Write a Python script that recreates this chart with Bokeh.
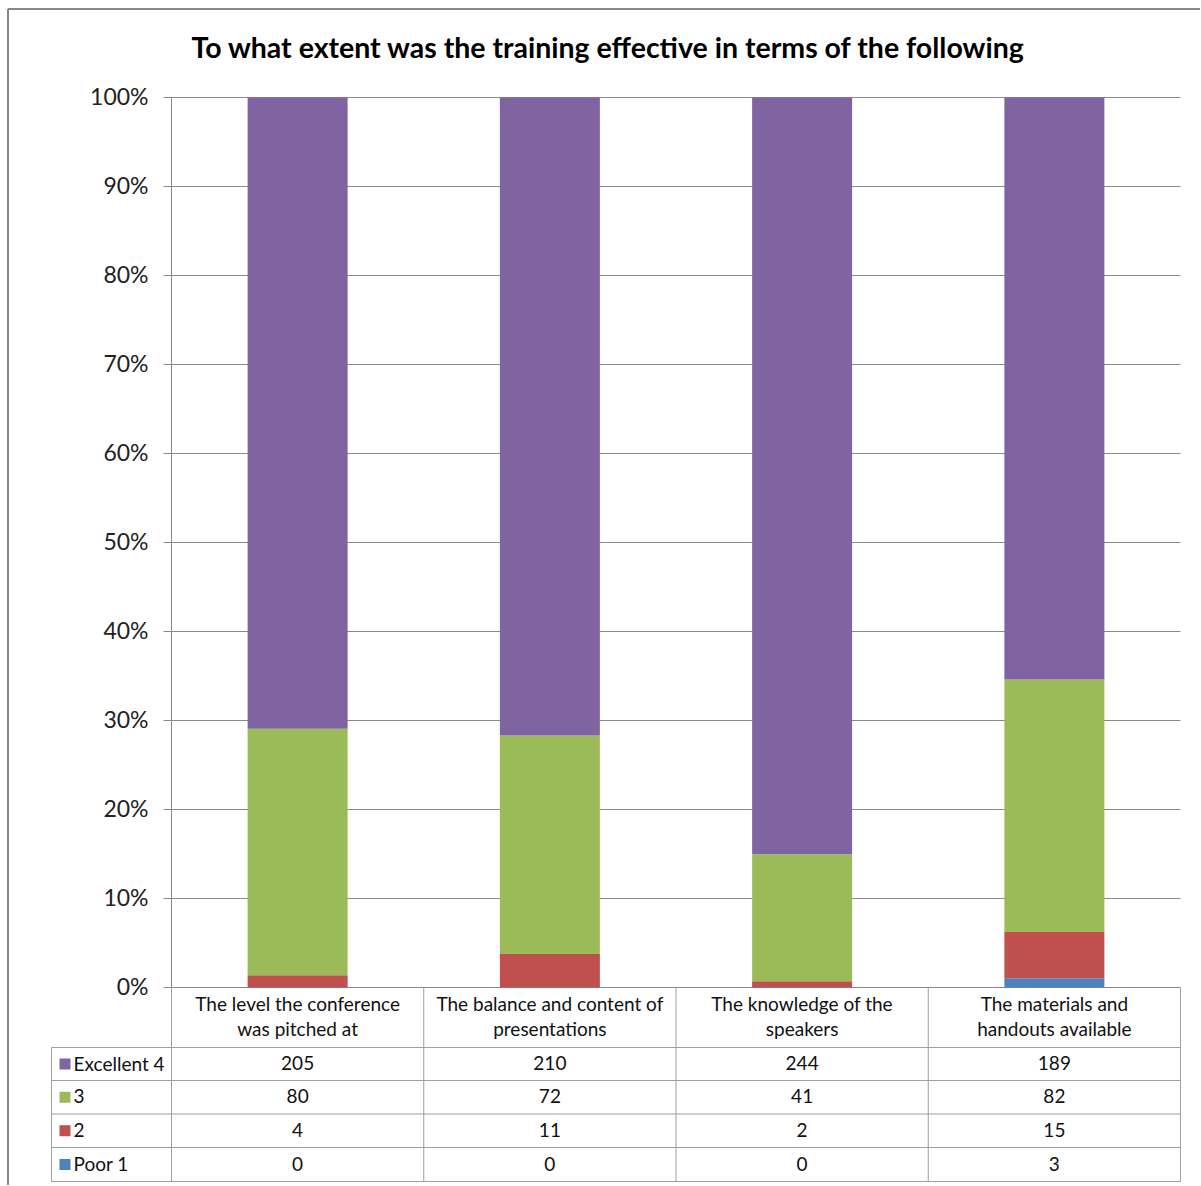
import numpy as np
from bokeh.plotting import figure
from bokeh.models import Range1d
from bokeh.core.properties import value
from bokeh.embed import file_html
from bokeh.resources import INLINE

# ---------------- data ----------------
title_text = "To what extent was the training effective in terms of the following"
header_lines = [
    ["The level the conference", "was pitched at"],
    ["The balance and content of", "presentations"],
    ["The knowledge of the", "speakers"],
    ["The materials and", "handouts available"],
]
series_names = ["Excellent 4", "3", "2", "Poor 1"]
excellent_4 = [205, 210, 244, 189]
score_3 = [80, 72, 41, 82]
score_2 = [4, 11, 2, 15]
poor_1 = [0, 0, 0, 3]
y_ticks = [0, 10, 20, 30, 40, 50, 60, 70, 80, 90, 100]
tick_labels = [f"{t}%" for t in y_ticks]

colors = {"Excellent 4": "#8064A2", "3": "#9BBB59", "2": "#C0504D", "Poor 1": "#4F81BD"}
FONT = "Lato"

# ---------------- layout helpers (page pixels -> data) ----------------
W, H = 1200, 1185
OX, OY = 0, 0              # where the figure sits on the page
PX0, PXU = 171.0, 252.25   # x pixel of category 0 edge, pixels per category
PY0, PYU = 987.0, 8.9      # y pixel of 0%, pixels per percent
def X(px): return (px - PX0) / PXU
def Y(py): return (PY0 - py) / PYU

p = figure(width=W, height=H, output_backend="svg", toolbar_location=None,
           x_axis_type=None, y_axis_type=None, min_border=0,
           x_range=Range1d(X(OX), X(OX + W)), y_range=Range1d(Y(OY + H), Y(OY)))
p.outline_line_color = None
p.background_fill_color = "white"
p.border_fill_color = "white"

# chart border (left and top visible)
p.segment(x0=[X(7.5), X(7.5)], y0=[Y(OY + H + 5), Y(8.5)], x1=[X(7.5), X(OX + W + 5)], y1=[Y(8.5), Y(8.5)],
          line_color="#878787", line_width=2)

# gridlines + tick marks
ncat = len(excellent_4)
grid_col = "#8a8a8a"
p.segment(x0=[X(163)] * len(y_ticks), y0=y_ticks, x1=[ncat] * len(y_ticks), y1=y_ticks,
          line_color=grid_col, line_width=1)
# y tick labels (nudged up ~2px for optical centring)
p.text(x=[X(148)] * len(y_ticks), y=[t + 2 / PYU for t in y_ticks], text=tick_labels, text_align="right",
       text_baseline="middle", text_font=value(FONT), text_font_size="23px", text_color="#222222")

# ---------------- stacked 100% bars ----------------
counts = np.array([poor_1, score_2, score_3, excellent_4], dtype=float)
totals = counts.sum(axis=0)
pct = counts / totals * 100.0
cum = np.vstack([np.zeros(ncat), np.cumsum(pct, axis=0)])
xs = np.arange(ncat) + 0.5
stack_names = ["Poor 1", "2", "3", "Excellent 4"]
for k, name in enumerate(stack_names):
    p.vbar(x=xs, width=100 / PXU, bottom=cum[k], top=cum[k + 1],
           fill_color=colors[name], line_color=None)

# ---------------- data table ----------------
tcol = "#9e9e9e"
row_edges_px = [987, 1047, 1080, 1113.5, 1147, 1181]
col_edges = [0, 1, 2, 3, 4]
# vertical lines of value columns
p.segment(x0=col_edges, y0=[Y(row_edges_px[0])] * 5, x1=col_edges, y1=[Y(row_edges_px[-1])] * 5,
          line_color=tcol, line_width=1)
# axis line (left of plot)
p.segment(x0=[0], y0=[0], x1=[0], y1=[100], line_color=grid_col, line_width=1)
# left column vertical line
p.segment(x0=[X(51)], y0=[Y(row_edges_px[1])], x1=[X(51)], y1=[Y(row_edges_px[-1])],
          line_color=tcol, line_width=1)
# horizontal row lines
hy = [Y(v) for v in row_edges_px[1:]]
p.segment(x0=[X(51)] * len(hy), y0=hy, x1=[ncat] * len(hy), y1=hy, line_color=tcol, line_width=1)

# header texts
for i, lines in enumerate(header_lines):
    p.text(x=[i + 0.5] * 2, y=[Y(1002.5), Y(1027.5)], text=lines, text_align="center",
           text_baseline="middle", text_font=value(FONT), text_font_size="19px", text_color="#111111")

# rows
row_values = [excellent_4, score_3, score_2, poor_1]
for r, name in enumerate(series_names):
    ymid = (row_edges_px[r + 1] + row_edges_px[r + 2]) / 2
    yc = Y(ymid - 1)
    p.scatter(x=[X(64.5)], y=[Y(ymid)], marker="square", size=11, fill_color=colors[name], line_color=None)
    p.text(x=[X(73)], y=[yc], text=[name], text_align="left", text_baseline="middle",
           text_font=value(FONT), text_font_size="19px", text_color="#111111")
    p.text(x=list(xs), y=[yc] * ncat, text=[str(v) for v in row_values[r]], text_align="center",
           text_baseline="middle", text_font=value(FONT), text_font_size="19px", text_color="#111111")

# title
p.text(x=[X(608)], y=[Y(46)], text=[title_text], text_align="center", text_baseline="middle",
       text_font=value(FONT), text_font_size="28.5px", text_font_style="bold", text_color="#000000")

open("out.html", "w").write(file_html(p, INLINE))
